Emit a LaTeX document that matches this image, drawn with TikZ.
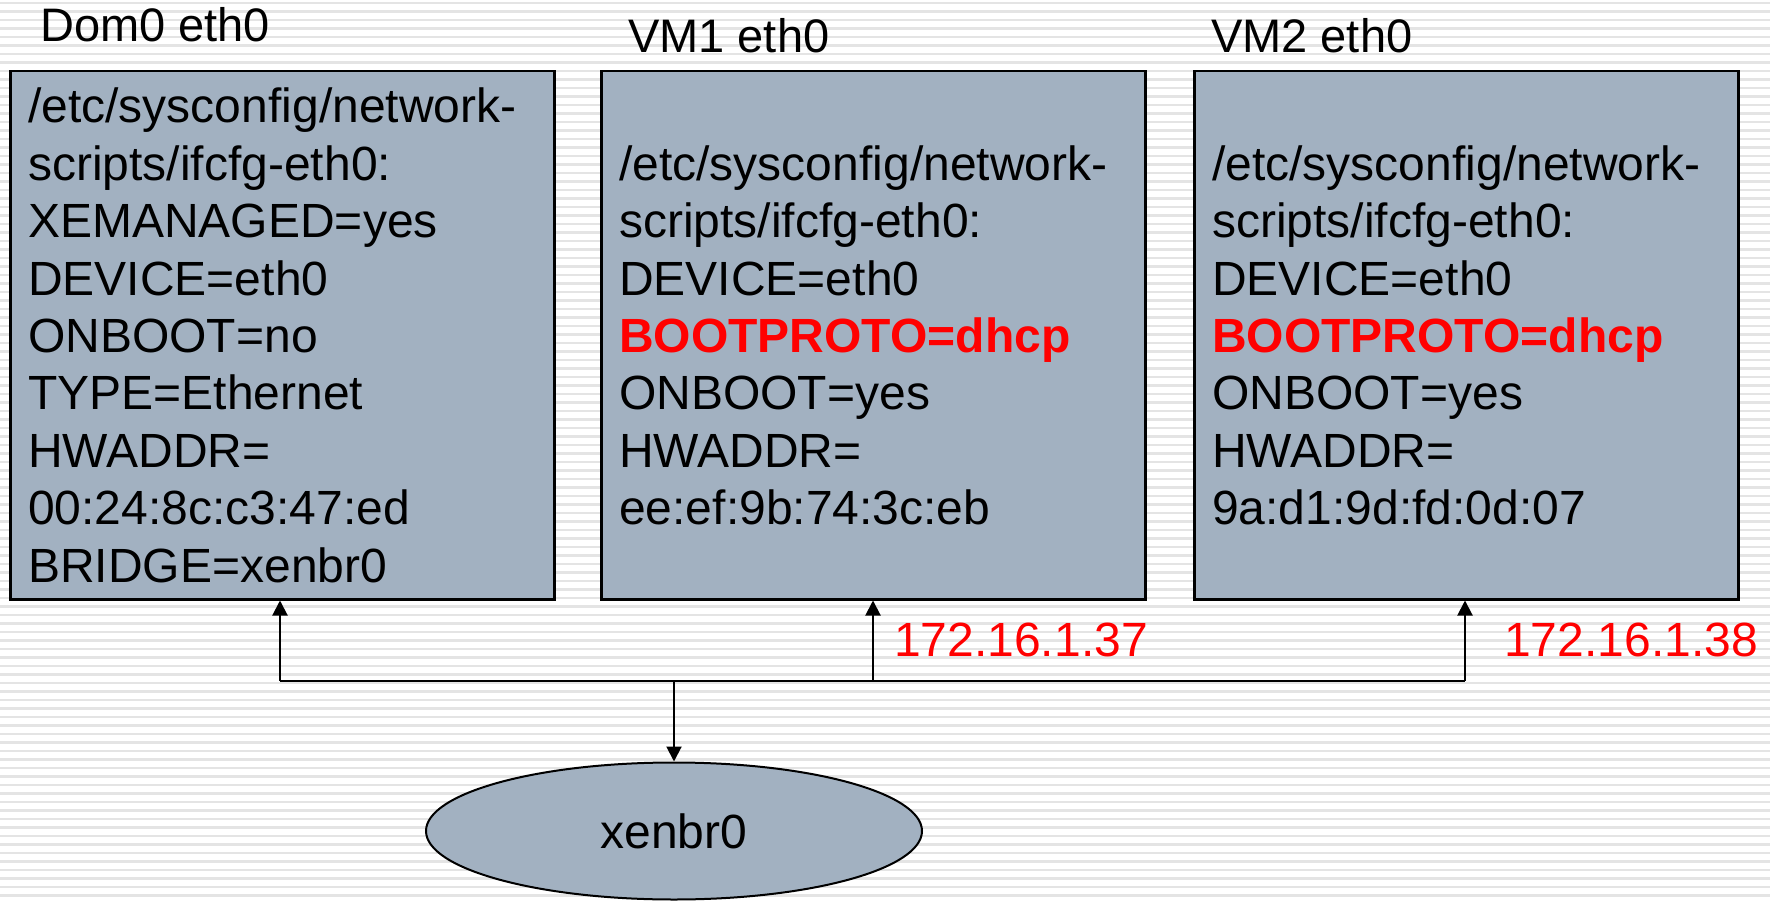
\documentclass[tikz,border=0pt]{standalone}
\usepackage{fontspec}
\setmainfont{Liberation Sans}
\usetikzlibrary{shapes.geometric,arrows.meta}
\definecolor{boxfill}{HTML}{A2B1C1}
\definecolor{stripecol}{HTML}{E4E4E4}
\definecolor{ipred}{HTML}{FF0000}
\tikzset{
  cfgbox/.style={draw=black, line width=2.5pt, fill=boxfill, anchor=north west,
    minimum width=544pt, minimum height=528pt, text width=508pt, inner xsep=18pt,
    align=left, font=\fontsize{48}{57.4}\selectfont},
  title/.style={anchor=base west, inner sep=0pt, font=\fontsize{47}{56}\selectfont},
  iplabel/.style={anchor=base west, inner sep=0pt, text=ipred, font=\fontsize{48}{56}\selectfont},
  conn/.style={line width=2pt, draw=black},
  arr/.style={conn, -{Triangle[width=15pt,length=15pt]}},
  bridge/.style={ellipse, draw=black, line width=2pt, fill=boxfill,
    minimum width=496pt, minimum height=137pt, inner sep=0pt, font=\fontsize{48}{56}\selectfont},
  hl/.style={}
}
\newcommand{\redb}[1]{\textcolor{ipred}{\bfseries #1}}
\begin{document}
\begin{tikzpicture}[x=1pt,y=-1pt]
\useasboundingbox (0,0) rectangle (1770,901);
\fill[white] (0,0) rectangle (1770,901);
\foreach \i in {0,...,105} {
  \fill[stripecol] (0,{1.6+8.5*\i}) rectangle (1770,{4.2+8.5*\i});
}
% titles
\node[title] (t1) at (40,42) {Dom0 eth0};
\node[title] (t2) at (628,53) {VM1 eth0};
\node[title] (t3) at (1211,53) {VM2 eth0};
% boxes
\node[cfgbox] (b1) at (9,70) {/etc/sysconfig/network-\\scripts/ifcfg-eth0:\\XEMANAGED=yes\\DEVICE=eth0\\ONBOOT=no\\TYPE=Ethernet\\HWADDR=\\00:24:8c:c3:47:ed\\BRIDGE=xenbr0};
\node[cfgbox] (b2) at (600,70) {/etc/sysconfig/network-\\scripts/ifcfg-eth0:\\DEVICE=eth0\\\redb{BOOTPROTO=dhcp}\\ONBOOT=yes\\HWADDR=\\ee:ef:9b:74:3c:eb};
\node[cfgbox] (b3) at (1193,70) {/etc/sysconfig/network-\\scripts/ifcfg-eth0:\\DEVICE=eth0\\\redb{BOOTPROTO=dhcp}\\ONBOOT=yes\\HWADDR=\\9a:d1:9d:fd:0d:07};
% bridge
\node[bridge] (br) at (674,831) {xenbr0};
% connector coordinates
\coordinate (j1) at (280,681);
\coordinate (j2) at (873,681);
\coordinate (j3) at (1465,681);
\coordinate (jm) at (674,681);
\draw[conn] (j1) -- (j3);
\draw[arr] (j1) -- (j1 |- b1.south);
\draw[arr] (j2) -- (j2 |- b2.south);
\draw[arr] (j3) -- (j3 |- b3.south);
\draw[arr] (jm) -- (br.north);
% IP labels
\node[iplabel] (ip1) at (894,656) {172.16.1.37};
\node[iplabel] (ip2) at (1504,656) {172.16.1.38};
\end{tikzpicture}
\end{document}
